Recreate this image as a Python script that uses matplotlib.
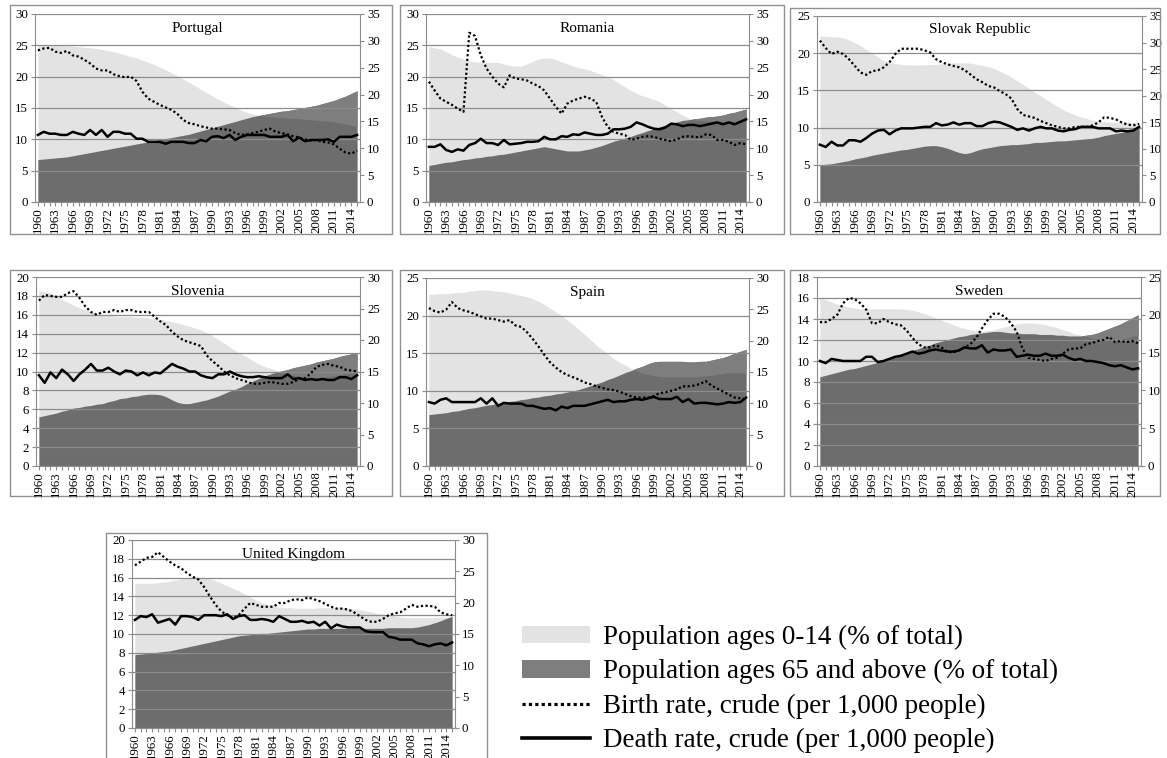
import numpy as np
import matplotlib
matplotlib.use("Agg")
import matplotlib.pyplot as plt
from matplotlib.patches import Patch, Rectangle
from matplotlib.lines import Line2D

plt.rcParams['font.family'] = ['Liberation Serif', 'DejaVu Serif']

years = list(range(1960, 2016))
label_years = list(range(1960, 2015, 3))

# population shares (% of total, right axis) and crude rates (per 1,000, left axis)
PT_young = [29.2,29.2,29.2,29.2,29.1,29.1,29.0,28.9,28.8,28.7,
            28.6,28.4,28.2,28.0,27.7,27.4,27.1,26.8,26.4,26.0,
            25.6,25.1,24.6,24.1,23.5,22.9,22.3,21.7,21.0,20.4,
            19.8,19.2,18.6,18.1,17.6,17.1,16.7,16.4,16.2,16.0,
            15.9,15.8,15.7,15.6,15.6,15.5,15.4,15.3,15.2,15.1,
            15.0,14.9,14.7,14.5,14.3,14.1]
PT_old = [7.9,8.0,8.1,8.2,8.3,8.4,8.6,8.8,9.0,9.2,
          9.4,9.6,9.8,10.0,10.2,10.4,10.6,10.8,11.0,11.2,
          11.4,11.6,11.8,12.0,12.2,12.4,12.6,12.9,13.2,13.5,
          13.8,14.1,14.4,14.7,15.0,15.3,15.6,15.9,16.1,16.3,
          16.5,16.7,16.9,17.0,17.2,17.4,17.6,17.8,18.0,18.3,
          18.6,18.9,19.3,19.7,20.2,20.7]
PT_birth = [24.2,24.5,24.6,24.0,23.8,24.1,23.4,23.2,22.7,22.1,
            21.3,21.0,21.0,20.4,20.1,19.9,20.0,19.3,17.6,16.5,
            16.0,15.5,15.1,14.7,14.1,13.1,12.6,12.4,12.1,11.9,
            11.7,11.7,11.6,11.5,11.0,10.7,10.8,11.0,11.2,11.5,
            11.7,11.2,11.0,10.8,10.5,10.3,10.0,9.8,9.9,9.6,
            9.5,9.2,8.5,7.9,7.7,8.2]
PT_death = [10.7,11.2,10.9,10.9,10.7,10.7,11.2,10.9,10.7,11.5,
            10.7,11.5,10.4,11.2,11.2,10.9,10.9,10.1,10.1,9.6,
            9.6,9.6,9.3,9.6,9.6,9.6,9.4,9.4,9.9,9.7,
            10.4,10.5,10.2,10.7,9.9,10.4,10.7,10.7,10.7,10.7,
            10.4,10.4,10.4,10.7,9.7,10.3,9.7,9.9,9.9,9.9,
            10.0,9.6,10.4,10.4,10.4,10.7]

RO_young = [28.9,28.7,28.5,28.0,27.4,27.0,26.6,26.3,26.1,26.0,
            26.0,26.0,26.0,25.7,25.4,25.3,25.3,25.7,26.2,26.6,
            26.8,26.8,26.5,26.1,25.7,25.3,25.0,24.8,24.5,24.1,
            23.7,23.3,22.8,22.1,21.4,20.8,20.2,19.8,19.5,19.1,
            18.7,18.0,17.4,16.8,16.2,15.6,15.3,15.2,15.1,15.1,
            15.0,15.0,15.0,15.0,15.1,15.2]
RO_old = [6.8,7.0,7.2,7.4,7.5,7.7,7.9,8.0,8.2,8.3,
          8.5,8.6,8.8,8.9,9.1,9.3,9.5,9.7,9.9,10.1,
          10.3,10.1,9.9,9.7,9.5,9.5,9.5,9.7,9.9,10.2,
          10.5,10.9,11.3,11.6,11.9,12.2,12.6,12.9,13.3,13.6,
          14.0,14.3,14.6,14.9,15.2,15.3,15.5,15.6,15.8,15.9,
          16.0,16.2,16.5,16.7,17.0,17.3]
RO_birth = [19.2,17.8,16.5,16.0,15.5,14.9,14.4,27.0,26.5,23.4,
            21.3,20.0,18.9,18.3,20.2,19.7,19.6,19.4,18.9,18.5,
            17.8,16.5,15.2,14.1,15.7,16.2,16.5,16.8,16.5,16.0,
            13.6,12.0,11.2,10.9,10.7,9.9,10.1,10.4,10.5,10.4,
            10.1,9.9,9.7,10.0,10.4,10.5,10.4,10.3,10.8,10.7,
            9.9,9.9,9.6,9.1,9.4,9.2]
RO_death = [8.8,8.8,9.2,8.3,8.0,8.4,8.2,9.1,9.4,10.1,
            9.4,9.4,9.1,9.9,9.2,9.3,9.4,9.6,9.6,9.7,
            10.4,10.0,10.0,10.5,10.4,10.8,10.7,11.1,10.9,10.7,
            10.7,10.9,11.6,11.6,11.7,12.0,12.7,12.4,12.0,11.7,
            11.6,11.9,12.5,12.4,12.1,12.3,12.3,12.1,12.3,12.5,
            12.7,12.4,12.7,12.4,12.8,13.2]

SK_young = [31.2,31.2,31.1,31.1,30.9,30.5,30.0,29.4,28.7,28.0,
            27.3,26.6,26.3,26.0,25.9,25.8,25.8,25.8,25.8,25.9,
            25.9,26.0,26.1,26.2,26.2,26.2,26.1,25.9,25.7,25.5,
            25.1,24.6,24.1,23.5,22.8,22.1,21.4,20.7,20.0,19.3,
            18.6,17.9,17.3,16.8,16.4,16.0,15.7,15.4,15.2,15.1,
            15.0,15.0,15.0,15.0,15.0,15.0]
SK_old = [6.9,7.1,7.2,7.4,7.6,7.8,8.1,8.3,8.5,8.8,
          9.0,9.2,9.4,9.6,9.8,9.9,10.1,10.3,10.5,10.6,
          10.6,10.4,10.1,9.7,9.3,9.1,9.3,9.7,10.0,10.2,
          10.4,10.6,10.7,10.8,10.8,10.9,11.0,11.2,11.2,11.3,
          11.4,11.5,11.5,11.6,11.7,11.8,11.9,12.0,12.2,12.5,
          12.7,12.9,13.1,13.4,13.7,14.0]
SK_birth = [21.7,20.7,19.9,20.2,19.9,19.2,18.3,17.4,17.1,17.6,
            17.7,18.1,18.8,19.9,20.6,20.6,20.6,20.6,20.4,20.1,
            19.2,18.8,18.5,18.3,18.1,17.7,17.1,16.5,16.1,15.6,
            15.4,14.9,14.5,13.9,12.5,11.7,11.5,11.3,10.9,10.6,
            10.3,10.1,9.9,9.9,10.1,10.1,10.1,10.3,10.7,11.4,
            11.3,11.1,10.7,10.4,10.3,10.5]
SK_death = [7.7,7.4,8.1,7.6,7.6,8.3,8.3,8.1,8.6,9.2,
            9.6,9.7,9.1,9.6,9.9,9.9,9.9,10.0,10.1,10.1,
            10.6,10.3,10.4,10.7,10.4,10.6,10.6,10.2,10.2,10.6,
            10.8,10.7,10.4,10.1,9.7,9.9,9.6,9.9,10.1,9.9,
            9.9,9.6,9.5,9.7,9.8,10.1,10.1,10.1,9.9,9.9,
            9.9,9.5,9.6,9.5,9.6,10.1]

SI_young = [27.8,27.7,27.5,27.0,26.4,26.0,25.5,25.1,24.8,24.5,
            24.2,24.0,23.9,23.8,23.7,23.7,23.7,23.6,23.6,23.5,
            23.4,23.3,23.1,22.9,22.7,22.4,22.2,21.9,21.6,21.2,
            20.7,20.1,19.5,18.9,18.3,17.8,17.3,16.7,16.2,15.8,
            15.5,15.2,14.9,14.6,14.4,14.2,14.1,14.0,14.0,14.1,
            14.2,14.3,14.5,14.6,14.7,14.8]
SI_old = [7.8,8.0,8.2,8.4,8.7,8.9,9.2,9.3,9.5,9.6,
          9.8,9.9,10.2,10.4,10.7,10.8,11.0,11.1,11.3,11.4,
          11.4,11.3,11.0,10.5,10.1,9.9,9.9,10.1,10.3,10.5,
          10.8,11.1,11.5,11.9,12.2,12.6,13.1,13.5,13.9,14.3,
          14.6,14.9,15.1,15.3,15.6,15.8,16.0,16.2,16.5,16.7,
          16.9,17.1,17.4,17.6,17.8,18.0]
SI_birth = [17.5,18.1,18.0,17.9,17.9,18.3,18.5,17.8,16.9,16.3,
            16.0,16.3,16.3,16.5,16.3,16.5,16.5,16.3,16.3,16.3,
            15.8,15.3,14.9,14.2,13.7,13.3,13.1,12.9,12.7,11.7,
            11.1,10.6,10.0,9.6,9.3,9.1,8.9,8.7,8.7,8.8,
            8.9,8.8,8.7,8.7,8.9,9.2,9.3,9.8,10.5,10.7,
            10.8,10.6,10.5,10.2,10.1,10.0]
SI_death = [9.6,8.8,9.9,9.3,10.2,9.7,9.0,9.7,10.2,10.8,
            10.1,10.1,10.4,10.0,9.7,10.1,10.0,9.6,9.9,9.6,
            9.9,9.8,10.3,10.8,10.5,10.3,10.0,10.0,9.6,9.4,
            9.3,9.7,9.7,10.0,9.7,9.5,9.4,9.4,9.5,9.4,
            9.3,9.3,9.3,9.7,9.2,9.3,9.1,9.2,9.1,9.2,
            9.1,9.1,9.4,9.4,9.2,9.6]

ES_young = [27.4,27.4,27.5,27.5,27.6,27.7,27.7,27.9,28.0,28.1,
            28.1,28.0,27.9,27.8,27.6,27.4,27.2,27.0,26.7,26.3,
            25.8,25.2,24.6,24.0,23.3,22.6,21.8,21.0,20.2,19.3,
            18.6,17.9,17.2,16.6,16.1,15.6,15.2,14.8,14.6,14.4,
            14.3,14.2,14.2,14.2,14.2,14.2,14.2,14.3,14.4,14.5,
            14.6,14.8,14.9,14.9,14.9,14.8]
ES_old = [8.2,8.3,8.4,8.5,8.7,8.8,9.0,9.2,9.3,9.5,
          9.7,9.8,10.0,10.1,10.3,10.4,10.6,10.7,10.9,11.0,
          11.2,11.3,11.5,11.6,11.8,12.0,12.2,12.5,12.8,13.1,
          13.4,13.8,14.1,14.5,14.9,15.2,15.6,15.9,16.3,16.6,
          16.7,16.7,16.7,16.7,16.7,16.6,16.6,16.7,16.7,16.9,
          17.1,17.3,17.6,18.0,18.3,18.6]
ES_birth = [21.0,20.6,20.4,20.8,21.8,21.0,20.7,20.5,20.2,19.9,
            19.6,19.6,19.4,19.2,19.4,18.7,18.5,17.8,16.9,15.9,
            14.8,13.8,13.1,12.5,12.1,11.8,11.5,11.1,10.9,10.6,
            10.4,10.2,10.1,9.9,9.6,9.3,9.1,9.1,9.1,9.3,
            9.7,9.8,10.0,10.2,10.6,10.6,10.7,10.9,11.3,10.7,
            10.3,9.9,9.5,9.1,9.0,8.9]
ES_death = [8.5,8.3,8.8,9.0,8.5,8.5,8.5,8.5,8.5,9.0,
            8.3,9.0,8.0,8.4,8.3,8.3,8.3,8.0,8.0,7.8,
            7.6,7.7,7.4,7.9,7.7,8.0,8.0,8.0,8.2,8.4,
            8.6,8.8,8.5,8.6,8.6,8.8,8.9,8.8,9.0,9.2,
            8.9,8.9,8.9,9.2,8.5,8.9,8.3,8.4,8.4,8.3,
            8.2,8.3,8.5,8.4,8.5,9.1]

SE_young = [22.2,22.0,21.7,21.4,21.2,21.0,20.9,20.8,20.8,20.8,
            20.8,20.8,20.8,20.8,20.8,20.7,20.6,20.4,20.2,19.9,
            19.6,19.3,19.0,18.7,18.4,18.2,18.0,17.9,17.8,17.9,
            18.0,18.2,18.4,18.6,18.8,18.9,18.9,18.9,18.8,18.7,
            18.5,18.3,18.0,17.8,17.5,17.3,17.1,16.9,16.8,16.7,
            16.6,16.6,16.7,16.9,17.1,17.3]
SE_old = [11.8,12.0,12.2,12.4,12.6,12.8,12.9,13.1,13.3,13.5,
          13.7,14.0,14.2,14.5,14.7,15.0,15.3,15.5,15.8,16.0,
          16.3,16.5,16.7,16.9,17.1,17.2,17.4,17.5,17.6,17.7,
          17.8,17.8,17.7,17.6,17.6,17.5,17.5,17.5,17.4,17.4,
          17.4,17.3,17.3,17.2,17.2,17.2,17.3,17.4,17.6,17.9,
          18.2,18.5,18.8,19.2,19.6,20.0]
SE_birth = [13.7,13.7,14.0,14.4,15.5,16.0,15.9,15.5,14.9,13.6,
            13.6,14.0,13.7,13.5,13.4,12.9,12.2,11.6,11.3,11.3,
            11.5,11.3,10.9,10.8,11.0,11.3,11.6,12.2,13.1,13.9,
            14.5,14.5,14.2,13.6,12.8,11.2,10.3,10.2,10.1,10.0,
            10.2,10.3,10.7,11.1,11.2,11.2,11.6,11.7,11.9,12.0,
            12.3,11.8,11.9,11.8,11.9,11.7]
SE_death = [10.0,9.8,10.2,10.1,10.0,10.0,10.0,10.0,10.4,10.4,
            9.9,10.0,10.2,10.4,10.5,10.7,10.9,10.7,10.8,11.0,
            11.1,11.0,10.9,10.9,11.0,11.3,11.2,11.2,11.5,10.8,
            11.1,11.0,11.0,11.1,10.4,10.5,10.6,10.5,10.5,10.7,
            10.5,10.5,10.6,10.3,10.1,10.2,10.0,10.0,9.9,9.8,
            9.6,9.5,9.6,9.4,9.2,9.3]

UK_young = [23.1,23.1,23.1,23.1,23.2,23.3,23.4,23.6,23.8,24.0,
            24.1,24.1,24.0,23.8,23.5,23.1,22.7,22.3,21.9,21.4,
            20.9,20.4,20.0,19.7,19.5,19.3,19.2,19.2,19.1,19.1,
            19.1,19.1,19.2,19.2,19.2,19.2,19.2,19.1,19.0,18.9,
            18.7,18.5,18.3,18.2,18.0,17.9,17.7,17.6,17.6,17.6,
            17.6,17.6,17.6,17.7,17.7,17.8]
UK_old = [11.7,11.8,11.9,12.0,12.1,12.2,12.3,12.5,12.7,12.9,
          13.1,13.3,13.5,13.7,13.9,14.1,14.3,14.5,14.7,14.8,
          14.9,15.0,15.1,15.1,15.2,15.3,15.4,15.5,15.6,15.7,
          15.8,15.8,15.9,15.9,15.9,15.9,15.9,15.9,15.9,15.9,
          15.9,15.9,15.9,15.9,16.0,16.0,16.0,16.0,16.0,16.1,
          16.3,16.5,16.8,17.1,17.5,17.8]
UK_birth = [17.3,17.7,18.1,18.2,18.7,18.2,17.7,17.3,17.0,16.5,
            16.1,15.8,15.0,14.0,13.1,12.4,12.0,11.7,12.0,12.7,
            13.3,13.1,12.9,12.9,12.9,13.3,13.3,13.6,13.7,13.6,
            13.9,13.7,13.5,13.2,12.9,12.7,12.7,12.6,12.3,11.9,
            11.5,11.3,11.3,11.6,12.0,12.2,12.3,12.7,13.1,12.9,
            13.0,13.0,12.9,12.3,12.1,12.0]
UK_death = [11.5,11.9,11.8,12.1,11.2,11.4,11.6,11.0,11.9,11.9,
            11.8,11.5,12.0,12.0,12.0,11.9,12.1,11.6,11.9,12.0,
            11.5,11.5,11.6,11.5,11.3,11.9,11.6,11.3,11.3,11.4,
            11.2,11.3,10.9,11.3,10.6,11.0,10.8,10.7,10.7,10.7,
            10.3,10.2,10.2,10.2,9.7,9.6,9.4,9.4,9.4,9.0,
            8.9,8.7,8.9,9.0,8.8,9.1]

labels = ["Population ages 0-14 (% of total)",
          "Population ages 65 and above (% of total)",
          "Birth rate, crude (per 1,000 people)",
          "Death rate, crude (per 1,000 people)"]

LIGHT = '#e3e3e3'
DARK = '#6d6d6d'
WEDGE = '#7e7e7e'
GREY = '#8c8c8c'

W, H = 1167, 758
fig = plt.figure(figsize=(W / 100, H / 100), dpi=100)


def fig_box(x0, y0, x1, y1):
    return [x0 / W, 1 - y1 / H, (x1 - x0) / W, (y1 - y0) / H]


def panel(name, young, old, birth, death, lmax, lstep, rmax, box, frame):
    fx, fy, fw, fh = fig_box(*frame)
    fig.add_artist(Rectangle((fx, fy), fw, fh, transform=fig.transFigure,
                             fill=False, edgecolor='#909090', lw=1))
    ax = fig.add_axes(fig_box(*box))
    ax2 = ax.twinx()
    yv = np.array(young)
    ov = np.array(old)
    ax2.fill_between(years, 0, yv, color=LIGHT, lw=0)
    ax2.fill_between(years, 0, ov, color=DARK, lw=0)
    ax2.fill_between(years, yv, ov, where=ov > yv, interpolate=True, color=WEDGE, lw=0)
    ax.plot(years, birth, color='black', lw=1.6, ls=(0, (1, 1.1)))
    ax.plot(years, death, color='black', lw=1.8)
    ax.set_zorder(ax2.get_zorder() + 1)
    ax.patch.set_visible(False)

    ax.set_xlim(1959.5, 2015.5)
    ax.set_ylim(0, lmax)
    ax.set_yticks(np.arange(0, lmax + 0.1, lstep))
    ax2.set_ylim(0, rmax)
    ax2.set_yticks(np.arange(0, rmax + 0.1, 5))
    ax.grid(axis='y', color=GREY, lw=0.9)
    ax.set_axisbelow(True)

    ax.set_xticks(years)
    ax.set_xticklabels([str(y) if y in label_years else '' for y in years],
                       rotation=90, fontsize=9.3)
    for a in (ax, ax2):
        for s in a.spines.values():
            s.set_visible(False)
            s.set_color(GREY)
    ax.spines['left'].set_visible(True)
    ax.spines['bottom'].set_visible(True)
    ax2.spines['right'].set_visible(True)
    ax.tick_params(axis='x', length=3, color=GREY, pad=1)
    ax.tick_params(axis='y', length=3, color=GREY, labelsize=9.3, pad=2)
    ax2.tick_params(axis='y', length=3, color=GREY, labelsize=9.3, pad=2)
    ax.text(0.5, 0.925, name, transform=ax.transAxes, ha='center', va='center',
            fontsize=11)


panel("Portugal", PT_young, PT_old, PT_birth, PT_death, 30, 5, 35,
      (35, 14, 360, 202), (10, 5, 392, 234))
panel("Romania", RO_young, RO_old, RO_birth, RO_death, 30, 5, 35,
      (426, 14, 749, 202), (400, 5, 784, 234))
panel("Slovak Republic", SK_young, SK_old, SK_birth, SK_death, 25, 5, 35,
      (817, 16, 1142, 202), (790, 8, 1160, 234))
panel("Slovenia", SI_young, SI_old, SI_birth, SI_death, 20, 2, 30,
      (36, 277, 360, 466), (10, 270, 392, 496))
panel("Spain", ES_young, ES_old, ES_birth, ES_death, 25, 5, 30,
      (426, 278, 749, 466), (400, 270, 784, 496))
panel("Sweden", SE_young, SE_old, SE_birth, SE_death, 18, 2, 25,
      (817, 277, 1141, 466), (790, 270, 1160, 496))
panel("United Kingdom", UK_young, UK_old, UK_birth, UK_death, 20, 2, 30,
      (132, 540, 455, 728), (106, 533, 487, 762))

handles = [Patch(facecolor=LIGHT, edgecolor='none'),
           Patch(facecolor=WEDGE, edgecolor='none'),
           Line2D([], [], color='black', lw=2.3, ls=(0, (1, 1))),
           Line2D([], [], color='black', lw=2.6)]
fig.legend(handles, labels, loc='upper left', bbox_to_anchor=(522 / W, 1 - 625 / H),
           frameon=False, fontsize=19.5, handlelength=2.5, handleheight=0.63,
           handletextpad=0.48, labelspacing=0.34, borderpad=0, borderaxespad=0)

fig.savefig("out.png", dpi=100)
